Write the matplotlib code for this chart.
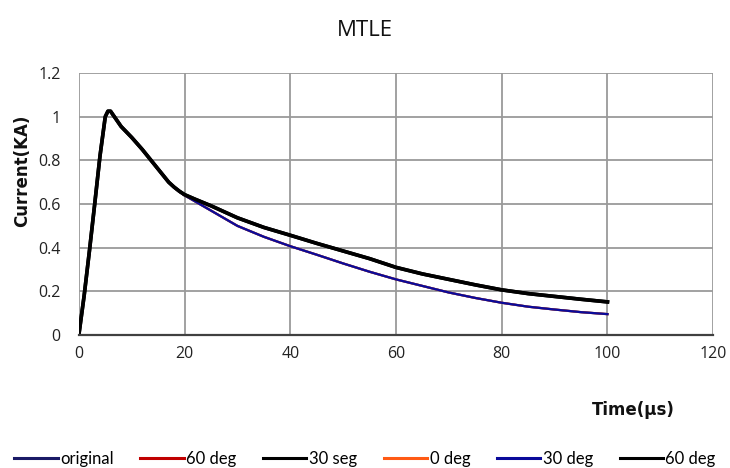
import matplotlib.pyplot as plt

# -------------------------------------------------
# DATA
# -------------------------------------------------
time_us = [0, 1, 2, 3, 4, 5, 5.5, 6, 7, 8, 10, 12, 14, 16, 17, 18, 19, 20, 22,
           25, 30, 35, 40, 45, 50, 55, 60, 65, 70, 75, 80, 85, 90, 95, 100]

original = [0, 0.18, 0.385, 0.60, 0.82, 1.0, 1.025, 1.025, 0.99, 0.955, 0.905,
            0.85, 0.79, 0.73, 0.70, 0.677, 0.657, 0.64, 0.612, 0.57, 0.50,
            0.45, 0.407, 0.368, 0.328, 0.29, 0.255, 0.225, 0.195, 0.17, 0.148,
            0.13, 0.117, 0.105, 0.096]

deg60_red = [0, 0.18, 0.385, 0.60, 0.82, 1.0, 1.025, 1.025, 0.99, 0.955, 0.905,
             0.85, 0.79, 0.73, 0.70, 0.678, 0.659, 0.643, 0.622, 0.592, 0.537,
             0.493, 0.457, 0.42, 0.385, 0.35, 0.31, 0.28, 0.255, 0.23, 0.207,
             0.19, 0.177, 0.164, 0.152]

seg30_black = list(deg60_red)
deg0_orange = list(original)
deg30_blue = list(original)
deg60_black = list(deg60_red)

series = [
    ("original", original, "#1A1A66", 1.6),
    ("60 deg", deg60_red, "#C00000", 1.6),
    ("30 seg", seg30_black, "#000000", 2.6),
    ("0 deg", deg0_orange, "#FF5A14", 1.6),
    ("30 deg", deg30_blue, "#0A0A9A", 1.6),
    ("60 deg", deg60_black, "#000000", 2.6),
]

x_ticks = [0, 20, 40, 60, 80, 100, 120]
y_ticks = [0, 0.2, 0.4, 0.6, 0.8, 1.0, 1.2]
y_tick_labels = ["0", "0.2", "0.4", "0.6", "0.8", "1", "1.2"]

# -------------------------------------------------
# FIGURE
# -------------------------------------------------
fig = plt.figure(figsize=(7.3, 4.68), dpi=100)
ax = fig.add_axes([0.108, 0.284, 0.869, 0.56])

for name, vals, col, lw in series:
    ax.plot(time_us, vals, color=col, lw=lw, label=name, solid_joinstyle="round")

ax.set_xlim(0, 120)
ax.set_ylim(0, 1.2)
ax.set_xticks(x_ticks)
ax.set_yticks(y_ticks)
ax.set_yticklabels(y_tick_labels)
ax.tick_params(length=0, labelsize=11.5, colors="#222222")
ax.tick_params(axis="y", pad=13)
ax.tick_params(axis="x", pad=8)
for lab in ax.get_xticklabels() + ax.get_yticklabels():
    lab.set_family("Open Sans")

ax.grid(True, color="#9A9A9A", lw=1.3)
ax.set_axisbelow(True)
for side in ["top", "right", "left"]:
    ax.spines[side].set_visible(False)
ax.spines["bottom"].set_color("#404040")
ax.spines["bottom"].set_linewidth(1.6)

fig.text(0.5, 0.935, "MTLE", ha="center", va="center", fontsize=16,
         family="Open Sans", color="#111111")
fig.text(0.03, 0.635, "Current(KA)", rotation=90, ha="center", va="center",
         fontsize=12, fontweight="bold", family="DejaVu Sans", color="#111111")
fig.text(0.868, 0.124, "Time(µs)", ha="center", va="center",
         fontsize=12, fontweight="bold", family="DejaVu Sans", color="#111111")

leg = fig.legend(loc="center", bbox_to_anchor=(0.5, 0.02), ncol=6,
                 frameon=False, handlelength=2.6,
                 handletextpad=0.15, columnspacing=1.6,
                 prop={"family": "Lato", "size": 12})
for h in leg.get_lines():
    h.set_linewidth(2.2)

fig.savefig("out.png", dpi=100, facecolor="white")
